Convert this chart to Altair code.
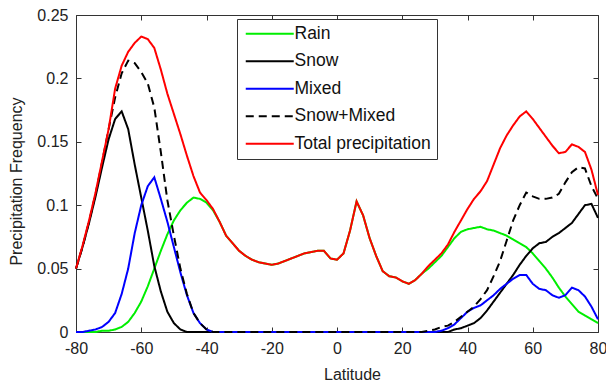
import altair as alt
import pandas as pd

# Latitude grid (degrees)
lat = list(range(-80, 81, 2))

total = [0.050, 0.068, 0.088, 0.110, 0.135, 0.160, 0.192, 0.210, 0.221, 0.228,
         0.233, 0.231, 0.224, 0.207, 0.188, 0.172, 0.156, 0.139, 0.123, 0.110,
         0.104, 0.097, 0.087, 0.076, 0.070, 0.064, 0.060, 0.057, 0.055, 0.054,
         0.053, 0.054, 0.056, 0.058, 0.060, 0.062, 0.063, 0.064, 0.064, 0.058,
         0.057, 0.062, 0.080, 0.103, 0.092, 0.074, 0.060, 0.048, 0.044, 0.043,
         0.040, 0.038, 0.041, 0.046, 0.052, 0.057, 0.062, 0.069, 0.079, 0.088,
         0.097, 0.105, 0.111, 0.119, 0.132, 0.145, 0.155, 0.163, 0.170, 0.174,
         0.168, 0.161, 0.154, 0.147, 0.141, 0.142, 0.148, 0.146, 0.142, 0.128,
         0.108]

rain = [0.000, 0.000, 0.000, 0.000, 0.001, 0.001, 0.002, 0.004, 0.008, 0.015,
        0.024, 0.036, 0.050, 0.064, 0.077, 0.088, 0.096, 0.102, 0.106, 0.105,
        0.102, 0.096, 0.087, 0.076, 0.070, 0.064, 0.060, 0.057, 0.055, 0.054,
        0.053, 0.054, 0.056, 0.058, 0.060, 0.062, 0.063, 0.064, 0.064, 0.058,
        0.057, 0.062, 0.080, 0.103, 0.092, 0.074, 0.060, 0.048, 0.044, 0.043,
        0.040, 0.038, 0.041, 0.046, 0.050, 0.055, 0.060, 0.067, 0.074, 0.079,
        0.081, 0.082, 0.083, 0.081, 0.080, 0.078, 0.076, 0.073, 0.070, 0.067,
        0.062, 0.056, 0.050, 0.043, 0.035, 0.028, 0.022, 0.016, 0.013, 0.010,
        0.007]

snow = [0.050, 0.067, 0.086, 0.107, 0.130, 0.152, 0.168, 0.174, 0.160, 0.132,
        0.106, 0.080, 0.052, 0.032, 0.016, 0.007, 0.002, 0.000, 0.000, 0.000,
        0.000, 0.000, 0.000, 0.000, 0.000, 0.000, 0.000, 0.000, 0.000, 0.000,
        0.000, 0.000, 0.000, 0.000, 0.000, 0.000, 0.000, 0.000, 0.000, 0.000,
        0.000, 0.000, 0.000, 0.000, 0.000, 0.000, 0.000, 0.000, 0.000, 0.000,
        0.000, 0.000, 0.000, 0.000, 0.000, 0.000, 0.000, 0.000, 0.002, 0.003,
        0.005, 0.007, 0.011, 0.017, 0.024, 0.031, 0.038, 0.045, 0.053, 0.060,
        0.066, 0.070, 0.071, 0.075, 0.078, 0.082, 0.086, 0.093, 0.100, 0.101,
        0.090]

mixed = [0.000, 0.000, 0.001, 0.002, 0.004, 0.008, 0.015, 0.030, 0.050, 0.078,
         0.100, 0.115, 0.122, 0.105, 0.087, 0.067, 0.047, 0.029, 0.015, 0.007,
         0.002, 0.000, 0.000, 0.000, 0.000, 0.000, 0.000, 0.000, 0.000, 0.000,
         0.000, 0.000, 0.000, 0.000, 0.000, 0.000, 0.000, 0.000, 0.000, 0.000,
         0.000, 0.000, 0.000, 0.000, 0.000, 0.000, 0.000, 0.000, 0.000, 0.000,
         0.000, 0.000, 0.000, 0.000, 0.000, 0.000, 0.001, 0.003, 0.006, 0.011,
         0.016, 0.019, 0.021, 0.025, 0.029, 0.034, 0.038, 0.042, 0.045, 0.045,
         0.038, 0.034, 0.033, 0.029, 0.027, 0.029, 0.035, 0.033, 0.028, 0.020,
         0.010]

snow_mixed = [0.050, 0.067, 0.087, 0.109, 0.134, 0.160, 0.185, 0.204, 0.214, 0.212,
              0.205, 0.196, 0.177, 0.142, 0.104, 0.076, 0.050, 0.030, 0.015, 0.007,
              0.002, 0.000, 0.000, 0.000, 0.000, 0.000, 0.000, 0.000, 0.000, 0.000,
              0.000, 0.000, 0.000, 0.000, 0.000, 0.000, 0.000, 0.000, 0.000, 0.000,
              0.000, 0.000, 0.000, 0.000, 0.000, 0.000, 0.000, 0.000, 0.000, 0.000,
              0.000, 0.000, 0.000, 0.000, 0.001, 0.002, 0.004, 0.005, 0.008, 0.012,
              0.016, 0.020, 0.026, 0.033, 0.044, 0.056, 0.072, 0.088, 0.100, 0.110,
              0.107, 0.105, 0.105, 0.106, 0.109, 0.118, 0.126, 0.130, 0.129, 0.115,
              0.105]

series_names = ["Rain", "Snow", "Mixed", "Snow+Mixed", "Total precipitation"]
series_values = [rain, snow, mixed, snow_mixed, total]
colors = ["#00ee00", "#000000", "#0000ff", "#000000", "#ff0000"]
dashes = [[1, 0], [1, 0], [1, 0], [8, 5], [1, 0]]

x_ticks = [-80, -60, -40, -20, 0, 20, 40, 60, 80]
y_ticks = [0, 0.05, 0.1, 0.15, 0.2, 0.25]

rows = []
for name, vals in zip(series_names, series_values):
    for la, v in zip(lat, vals):
        rows.append({"lat": la, "freq": v, "series": name})
df = pd.DataFrame(rows)

FONT = "Liberation Sans"
x_scale = alt.Scale(domain=[-80, 80], nice=False, zero=False)
y_scale = alt.Scale(domain=[0, 0.25], nice=False)

lines = alt.Chart(df).mark_line(strokeWidth=2).encode(
    x=alt.X("lat:Q", scale=x_scale,
            axis=alt.Axis(values=x_ticks, orient="bottom", offset=-5, tickSize=5,
                          domain=False, grid=False, labelPadding=8, labelFlush=False,
                          labelExpr="'' + datum.value",
                          title="Latitude", titleX=276, titleY=52,
                          titleBaseline="alphabetic", titleAlign="center")),
    y=alt.Y("freq:Q", scale=y_scale,
            axis=alt.Axis(values=y_ticks, orient="left", offset=-5, tickSize=5,
                          domain=False, grid=False, labelPadding=8,
                          labelExpr="'' + datum.value", labelFlush=False,
                          title="Precipitation Frequency", titlePadding=12, titleY=166)),
    color=alt.Color("series:N", scale=alt.Scale(domain=series_names, range=colors),
                    legend=alt.Legend(title=None)),
    strokeDash=alt.StrokeDash("series:N", scale=alt.Scale(domain=series_names, range=dashes),
                              legend=alt.Legend(title=None)),
)

frame = alt.Chart(df).mark_point(opacity=0).encode(
    x=alt.X("lat:Q", scale=x_scale,
            axis=alt.Axis(values=x_ticks, orient="top", offset=-5, tickSize=5,
                          domain=False, grid=False, labels=False, title=None)),
    y=alt.Y("freq:Q", scale=y_scale,
            axis=alt.Axis(values=y_ticks, orient="right", offset=-5, tickSize=5,
                          domain=False, grid=False, labels=False, title=None)),
)

chart = alt.layer(lines, frame).resolve_axis(
    x="independent", y="independent"
).properties(
    width=522, height=317,
    autosize=alt.AutoSizeParams(type="none"),
    padding={"left": 68, "top": 7, "right": 8, "bottom": 51},
).configure_view(
    stroke="#333333", strokeWidth=1
).configure_axis(
    labelFont=FONT, labelFontSize=16, labelColor="#222222",
    titleFont=FONT, titleFontSize=16, titleFontWeight="normal", titleColor="#222222",
    tickColor="#333333", tickWidth=1,
).configure_legend(
    orient="none", legendX=161, legendY=4,
    strokeColor="#333333", fillColor="white", padding=6,
    labelFont=FONT, labelFontSize=17.5, labelColor="#111111",
    symbolType="M-1,0H7", symbolSize=144, symbolStrokeWidth=2,
    labelOffset=34, rowPadding=8.5,
)

chart.save("out.html", embed_options={"renderer": "svg", "actions": False})
